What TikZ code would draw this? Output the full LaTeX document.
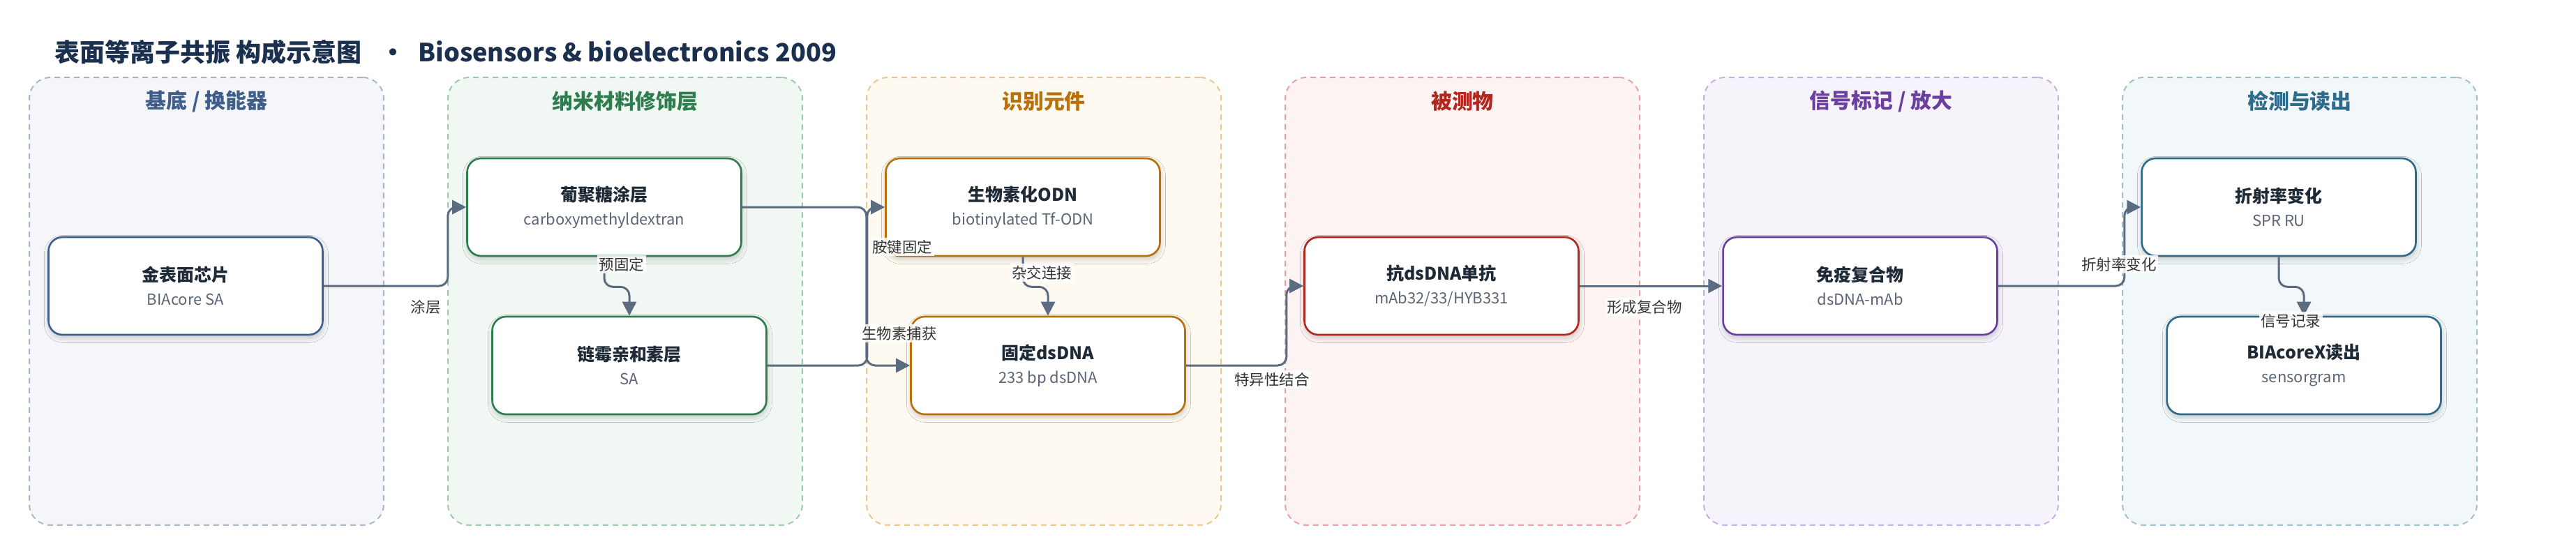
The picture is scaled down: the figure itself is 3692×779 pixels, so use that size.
\documentclass[tikz,border=0pt]{standalone}
\usepackage{fontspec}
\setmainfont{Noto Sans CJK SC}
\usetikzlibrary{arrows.meta,shadows.blur}

\definecolor{titlec}{HTML}{1B2F4E}
\definecolor{darkc}{HTML}{1F2A37}
\definecolor{subc}{HTML}{5B6575}
\definecolor{labc}{HTML}{333333}
\definecolor{edgec}{HTML}{5B6B80}
\definecolor{c1}{HTML}{3F5F8A}\definecolor{f1}{HTML}{F4F6FA}\definecolor{d1}{HTML}{A6B4C8}
\definecolor{c2}{HTML}{2E7D4F}\definecolor{f2}{HTML}{F1F8F3}\definecolor{d2}{HTML}{9ACBA8}
\definecolor{c3}{HTML}{B8700A}\definecolor{f3}{HTML}{FEF9F1}\definecolor{d3}{HTML}{EDC48C}
\definecolor{c4}{HTML}{B3261E}\definecolor{f4}{HTML}{FDF3F3}\definecolor{d4}{HTML}{E8A1A1}
\definecolor{c5}{HTML}{6B3FA0}\definecolor{f5}{HTML}{F6F3FB}\definecolor{d5}{HTML}{C4AEE2}
\definecolor{c6}{HTML}{2E6B8A}\definecolor{f6}{HTML}{F2F7F9}\definecolor{d6}{HTML}{9CC0CF}

\newcommand{\nd}[2]{{\fontsize{14.2pt}{19.4pt}\selectfont\bfseries\color{darkc}#1}\\{\color{subc}#2}}

\begin{document}
\begin{tikzpicture}
[x=0.02cm,y=-0.02cm,
 ar/.style={-{Triangle[length=0.4cm,width=0.4cm]},line width=1.7pt,draw=edgec,rounded corners=0.25cm},
 grp/.style={rectangle,rounded corners=0.6cm,dash pattern=on 0.16cm off 0.12cm,line width=1.1pt,minimum width=10.16cm,minimum height=12.84cm},
 gt/.style={font=\fontsize{17pt}{20pt}\selectfont\bfseries},
 no/.style={rectangle,rounded corners=0.4cm,fill=white,line width=1.5pt,minimum width=7.86cm,minimum height=2.8cm,align=center,
   font=\fontsize{12.5pt}{19.4pt}\selectfont,
   blur shadow={shadow xshift=0.5pt,shadow yshift=-2.5pt,shadow blur radius=4pt,shadow blur steps=10,shadow opacity=20}},
 lb/.style={fill=white,fill opacity=0.85,text opacity=1,inner sep=1.5pt,text=labc,font=\fontsize{12.2pt}{14pt}\selectfont}]
\useasboundingbox (0,0) rectangle (3692,779);

\node [anchor=west,text=titlec,font=\fontsize{20.5pt}{24pt}\selectfont\bfseries] at (72,75) (title)
  {表面等离子共振 构成示意图\hspace{0.75em}•\hspace{0.5em}Biosensors \& bioelectronics 2009};

% groups
\node [grp,draw=d1,fill=f1] at (296,432) (g1) {};
\node [grp,draw=d2,fill=f2] at (896,432) (g2) {};
\node [grp,draw=d3,fill=f3] at (1496,432) (g3) {};
\node [grp,draw=d4,fill=f4] at (2096,432) (g4) {};
\node [grp,draw=d5,fill=f5] at (2696,432) (g5) {};
\node [grp,draw=d6,fill=f6] at (3296,432) (g6) {};
\node [gt,text=c1] at (296,145) (t1) {基底 / 换能器};
\node [gt,text=c2] at (896,145) (t2) {纳米材料修饰层};
\node [gt,text=c3] at (1496,145) (t3) {识别元件};
\node [gt,text=c4] at (2096,145) (t4) {被测物};
\node [gt,text=c5] at (2696,145) (t5) {信号标记 / 放大};
\node [gt,text=c6] at (3296,145) (t6) {检测与读出};

% blocks
\node [no,draw=c1] at (266,410) (chip) {\nd{金表面芯片}{BIAcore SA}};
\node [no,draw=c2] at (866,297) (dex) {\nd{葡聚糖涂层}{carboxymethyldextran}};
\node [no,draw=c2] at (902,524) (sa) {\nd{链霉亲和素层}{SA}};
\node [no,draw=c3] at (1466,297) (odn) {\nd{生物素化ODN}{biotinylated Tf-ODN}};
\node [no,draw=c3] at (1502,524) (dna) {\nd{固定dsDNA}{233 bp dsDNA}};
\node [no,draw=c4] at (2066,410) (mab) {\nd{抗dsDNA单抗}{mAb32/33/HYB331}};
\node [no,draw=c5] at (2666,410) (cpx) {\nd{免疫复合物}{dsDNA-mAb}};
\node [no,draw=c6] at (3266,297) (spr) {\nd{折射率变化}{SPR RU}};
\node [no,draw=c6] at (3302,524) (rd) {\nd{BIAcoreX读出}{sensorgram}};

% links
\draw [ar] (chip.east) -- ++(178,0) |- (dex.west);
\draw [ar] (dex.south) -- ++(0,43) -| (sa.north);
\draw [ar] (dex.east) -- ++(178,0) |- (dna.west);
\draw [ar] (sa.east) -- ++(143,0) |- (odn.west);
\draw [ar] (odn.south) -- ++(0,43) -| (dna.north);
\draw [ar] (dna.east) -- ++(144,0) |- (mab.west);
\draw [ar] (mab) -- (cpx);
\draw [ar] (cpx.east) -- ++(181,0) |- (spr.west);
\draw [ar] (spr.south) -- ++(0,43) -| (rd.north);

\node [lb] at (610,440) (l1) {涂层};
\node [lb] at (891,379) (l2) {预固定};
\node [lb] at (1293,354) (l3) {胺键固定};
\node [lb] at (1289,478) (l4) {生物素捕获};
\node [lb] at (1493,391) (l5) {杂交连接};
\node [lb] at (1823,544) (l6) {特异性结合};
\node [lb] at (2357,440) (l7) {形成复合物};
\node [lb] at (3037,379) (l8) {折射率变化};
\node [lb] at (3283,460) (l9) {信号记录};
\end{tikzpicture}
\end{document}
